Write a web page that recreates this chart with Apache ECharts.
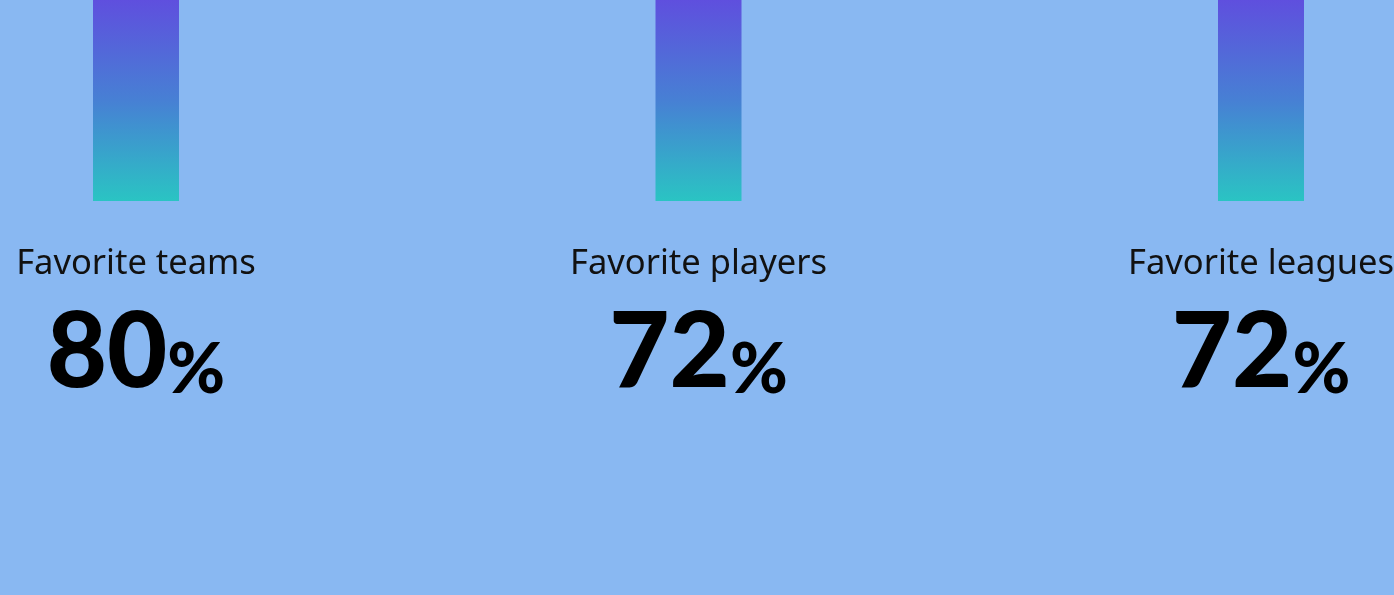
<!DOCTYPE html>
<html>
<head>
<meta charset="utf-8">
<script src="https://cdn.jsdelivr.net/npm/echarts@6/dist/echarts.min.js"></script>
<style>
html,body{margin:0;padding:0;background:#89b8f2;}
#chart{width:1394px;height:595px;}
</style>
</head>
<body>
<div id="chart"></div>
<script>
const categories = ["Favorite teams", "Favorite players", "Favorite leagues"];
const values = [80, 72, 72];

const chart = echarts.init(document.getElementById('chart'));
chart.setOption({
  backgroundColor: '#89b8f2',
  animation: false,
  grid: { left: 136, right: 133, top: 0, bottom: 394, containLabel: false, outerBoundsMode: 'none' },
  xAxis: {
    type: 'category',
    data: categories,
    boundaryGap: false,
    axisLine: { show: false },
    axisTick: { show: false },
    splitLine: { show: false },
    axisLabel: {
      interval: 0,
      margin: 38,
      formatter: function (name, idx) {
        return '{name|' + name + '}\n{num|' + values[idx] + '}{pct|%}';
      },
      rich: {
        name: { fontFamily: 'Noto Sans', fontSize: 34.5, color: '#111', lineHeight: 50, align: 'center' },
        num: { fontFamily: 'Lato', fontWeight: 900, fontSize: 104, color: '#000', lineHeight: 116, verticalAlign: 'bottom' },
        pct: { fontFamily: 'Lato', fontWeight: 900, fontSize: 70, color: '#000', lineHeight: 116, verticalAlign: 'bottom' }
      }
    }
  },
  yAxis: {
    type: 'value',
    min: 0,
    max: 60,
    show: false,
    splitLine: { show: false }
  },
  series: [{
    type: 'bar',
    data: values,
    barWidth: 86,
    clip: true,
    itemStyle: {
      color: {
        type: 'linear', global: true, x: 0, y: 0, x2: 0, y2: 201,
        colorStops: [
          { offset: 0, color: '#5f4fde' },
          { offset: 0.5, color: '#4780d4' },
          { offset: 1, color: '#2ac4c3' }
        ]
      }
    }
  }]
});
</script>
</body>
</html>
